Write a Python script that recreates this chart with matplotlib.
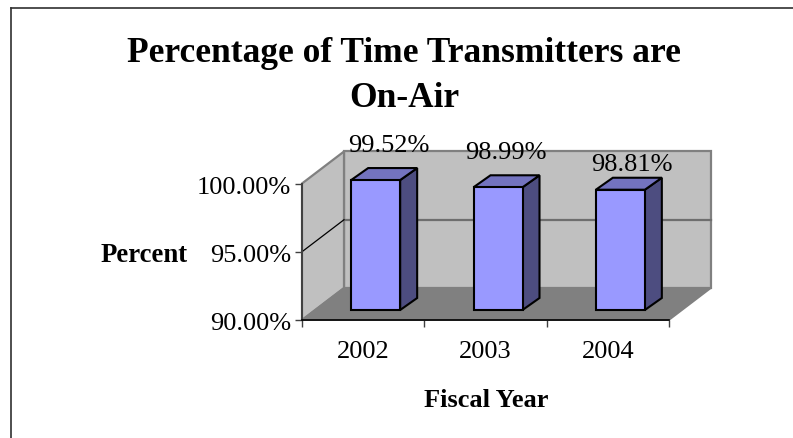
import matplotlib
matplotlib.use("Agg")
import matplotlib.pyplot as plt
from matplotlib.patches import Polygon
from matplotlib.transforms import ScaledTranslation

W, H = 793, 438
years = ["2002", "2003", "2004"]
percent = [99.52, 98.99, 98.81]
value_labels = ["99.52%", "98.99%", "98.81%"]
y_ticks = [90, 95, 100]
y_tick_labels = ["90.00%", "95.00%", "100.00%"]
title_lines = ["Percentage of Time Transmitters are", "On-Air"]

plt.rcParams["font.family"] = ["Liberation Serif", "DejaVu Serif"]
fig = plt.figure(figsize=(W / 100, H / 100), dpi=100, facecolor="white")
L, R, T, B = 302, 669, 183.5, 320
ax = fig.add_axes([L / W, 1 - B / H, (R - L) / W, (B - T) / H])
ax.set_xlim(0, 3)
ax.set_ylim(90, 100)
ax.patch.set_visible(False)
for s in ax.spines.values():
    s.set_visible(False)

px = 3 / (R - L)
py = 10 / (B - T)
DX, DY = 42 * px, 32 * py   # full chart depth
EDGE = "#808080"

def poly(pts, fc, ec, lw, z):
    ax.add_patch(Polygon(pts, closed=True, facecolor=fc, edgecolor=ec, linewidth=lw,
                         zorder=z, clip_on=False, joinstyle="miter"))

ymin, ymax = 90, 100
# walls and floor
poly([(DX, ymin + DY), (3 + DX, ymin + DY), (3 + DX, ymax + DY), (DX, ymax + DY)], "#c0c0c0", EDGE, 1.6, 1)
poly([(0, ymin), (DX, ymin + DY), (DX, ymax + DY), (0, ymax)], "#c0c0c0", EDGE, 1.6, 1)
poly([(0, ymin), (3, ymin), (3 + DX, ymin + DY), (DX, ymin + DY)], "#808080", EDGE, 1.2, 2)
# gridline
ax.plot([DX, 3 + DX], [95 + DY, 95 + DY], color="#6e6e6e", lw=1.6, zorder=3, clip_on=False)
ax.plot([0, DX], [95, 95 + DY], color="black", lw=0.9, zorder=3, clip_on=False)
# axis lines
ax.plot([0, 0], [90, 100], color="#404040", lw=1.4, zorder=4, clip_on=False)
ax.plot([0, 3], [90, 90], color="black", lw=1.2, zorder=4, clip_on=False)

# bars
bw = 49 * px
ddx, ddy = 17 * px, 12 * py
ox, oy = 12.5 * px, 10 * py
label_dx = [13.5, 7.5, 11.5]
label_dy = [15.7, 16, 7]
for i, v in enumerate(percent):
    x0 = i + 0.5 + ox - bw / 2
    x1 = x0 + bw
    y0 = ymin + oy
    y1 = v + oy
    poly([(x1, y0), (x1 + ddx, y0 + ddy), (x1 + ddx, y1 + ddy), (x1, y1)], "#4d4d80", "black", 1.5, 5)
    poly([(x0, y1), (x1, y1), (x1 + ddx, y1 + ddy), (x0 + ddx, y1 + ddy)], "#7373bf", "black", 1.5, 5)
    poly([(x0, y0), (x1, y0), (x1, y1), (x0, y1)], "#9999ff", "black", 1.5, 6)
    ax.text(i + 0.5 + ox + label_dx[i] * px, y1 + ddy + label_dy[i] * py, value_labels[i],
            ha="center", va="baseline", fontsize=19, color="black", zorder=7, clip_on=False)

ax.set_yticks(y_ticks, y_tick_labels, fontsize=19)
ax.set_xticks(range(4), [""] * 4)
ax.set_xticks([0.5, 1.5, 2.5], years, minor=True, fontsize=19)
ax.tick_params(axis="y", length=5, width=1, pad=3, color="#404040")
ax.tick_params(axis="x", which="major", length=5, width=1, color="#404040")
ax.tick_params(axis="x", which="minor", length=0, pad=15)
shift = ScaledTranslation(0, -2 / 100, fig.dpi_scale_trans)
for lab in ax.get_yticklabels():
    lab.set_transform(lab.get_transform() + shift)

fig.text(404 / W, 1 - 62 / H, title_lines[0], ha="center", va="baseline",
         fontsize=25.5, fontweight="bold")
fig.text(404.5 / W, 1 - 107 / H, title_lines[1], ha="center", va="baseline",
         fontsize=25.5, fontweight="bold")
fig.text(144 / W, 1 - 261.5 / H, "Percent", ha="center", va="baseline", fontsize=19.3, fontweight="bold")
fig.text(486 / W, 1 - 407 / H, "Fiscal Year", ha="center", va="baseline", fontsize=19, fontweight="bold")

# chart frame
fig.add_artist(plt.Line2D([10.5 / W, 10.5 / W], [0, 1 - 8 / H], color="#303030", lw=1.2))
fig.add_artist(plt.Line2D([10.5 / W, 1], [1 - 8 / H, 1 - 8 / H], color="#303030", lw=1.2))

fig.savefig("out.png", dpi=100)
